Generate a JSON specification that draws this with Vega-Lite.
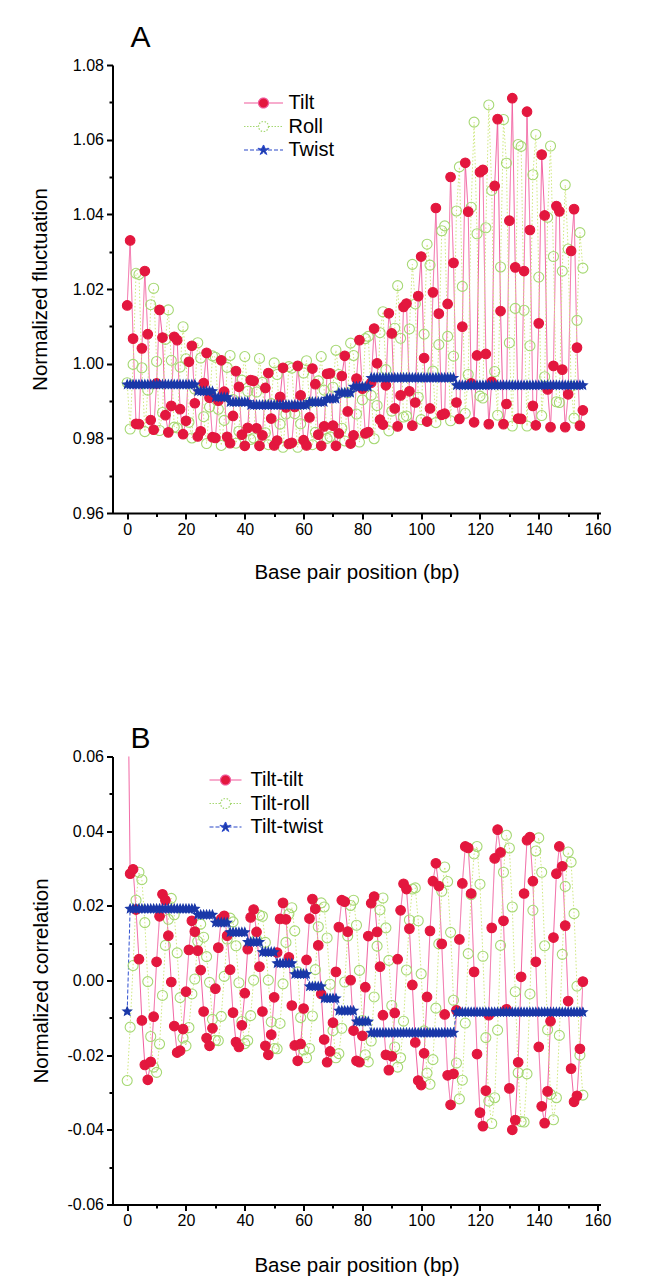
{
"$schema":"https://vega.github.io/schema/vega-lite/v6.json",
"background":"white",
"padding":{"left":30.5,"top":23,"right":8,"bottom":2},
"spacing":140.5,
"resolve":{"scale":{"color":"independent","strokeDash":"independent","shape":"independent","size":"independent","stroke":"independent","fill":"independent"},"legend":{"color":"independent","strokeDash":"independent","shape":"independent","size":"independent","stroke":"independent","fill":"independent"}},
"config":{
 "view":{"stroke":null},
 "font":"Liberation Sans",
 "axis":{"domainColor":"black","domainWidth":2,"tickColor":"black","tickWidth":2,"labelColor":"black","titleColor":"black","labelFont":"Liberation Sans","titleFont":"Liberation Sans","labelFontSize":16,"titleFontSize":20.5,"titleFontWeight":"normal","grid":false,"labelOverlap":false,"labelFlush":false},
 "title":{"font":"Liberation Sans","fontSize":30,"fontWeight":"normal","anchor":"start","frame":"group","color":"black","dx":18},
 "legend":{"orient":"none","title":null,"labelFontSize":20,"labelFont":"Liberation Sans","labelColor":"black","symbolSize":100,"labelOffset":15,"rowPadding":3.5,"padding":0,"symbolOpacity":1,"symbolStrokeWidth":1.2}
},
"datasets":{
"a":[
{"x":0,"Tilt":1.0156,"Roll":0.9949,"Twist":0.9944},
{"x":1,"Tilt":1.033,"Roll":0.9825,"Twist":0.9944},
{"x":2,"Tilt":1.0067,"Roll":0.9998,"Twist":0.9944},
{"x":3,"Tilt":0.9839,"Roll":1.0242,"Twist":0.9944},
{"x":4,"Tilt":0.9838,"Roll":1.0239,"Twist":0.9944},
{"x":5,"Tilt":1.0041,"Roll":0.9989,"Twist":0.9944},
{"x":6,"Tilt":1.0248,"Roll":0.9818,"Twist":0.9944},
{"x":7,"Tilt":1.0079,"Roll":0.9929,"Twist":0.9944},
{"x":8,"Tilt":0.9849,"Roll":1.0158,"Twist":0.9944},
{"x":9,"Tilt":0.9823,"Roll":1.0202,"Twist":0.9944},
{"x":10,"Tilt":0.9947,"Roll":1.0006,"Twist":0.9944},
{"x":11,"Tilt":1.0144,"Roll":0.9821,"Twist":0.9944},
{"x":12,"Tilt":1.007,"Roll":0.9869,"Twist":0.9944},
{"x":13,"Tilt":0.9862,"Roll":1.0065,"Twist":0.9944},
{"x":14,"Tilt":0.9816,"Roll":1.0144,"Twist":0.9944},
{"x":15,"Tilt":0.9887,"Roll":1.0009,"Twist":0.9944},
{"x":16,"Tilt":1.0072,"Roll":0.983,"Twist":0.9944},
{"x":17,"Tilt":1.0063,"Roll":0.9828,"Twist":0.9944},
{"x":18,"Tilt":0.9878,"Roll":0.9991,"Twist":0.9944},
{"x":19,"Tilt":0.9811,"Roll":1.0099,"Twist":0.9944},
{"x":20,"Tilt":0.9847,"Roll":1.0013,"Twist":0.9944},
{"x":21,"Tilt":1.0005,"Roll":0.9843,"Twist":0.9944},
{"x":22,"Tilt":1.0048,"Roll":0.9801,"Twist":0.9944},
{"x":23,"Tilt":0.9894,"Roll":0.9932,"Twist":0.9944},
{"x":24,"Tilt":0.9805,"Roll":1.0056,"Twist":0.9926},
{"x":25,"Tilt":0.9819,"Roll":1.0015,"Twist":0.9926},
{"x":26,"Tilt":0.9948,"Roll":0.9858,"Twist":0.9926},
{"x":27,"Tilt":1.0029,"Roll":0.9786,"Twist":0.9926},
{"x":28,"Tilt":0.9909,"Roll":0.9884,"Twist":0.9926},
{"x":29,"Tilt":0.9803,"Roll":1.0021,"Twist":0.9926},
{"x":30,"Tilt":0.9801,"Roll":1.0017,"Twist":0.991},
{"x":31,"Tilt":0.9901,"Roll":0.9878,"Twist":0.991},
{"x":32,"Tilt":1.0009,"Roll":0.9781,"Twist":0.991},
{"x":33,"Tilt":0.9925,"Roll":0.9848,"Twist":0.991},
{"x":34,"Tilt":0.9804,"Roll":0.999,"Twist":0.991},
{"x":35,"Tilt":0.9787,"Roll":1.0022,"Twist":0.9897},
{"x":36,"Tilt":0.986,"Roll":0.9904,"Twist":0.9897},
{"x":37,"Tilt":0.998,"Roll":0.9787,"Twist":0.9897},
{"x":38,"Tilt":0.9938,"Roll":0.9819,"Twist":0.9897},
{"x":39,"Tilt":0.981,"Roll":0.9956,"Twist":0.9897},
{"x":40,"Tilt":0.978,"Roll":1.0019,"Twist":0.9897},
{"x":41,"Tilt":0.9828,"Roll":0.9926,"Twist":0.9897},
{"x":42,"Tilt":0.9956,"Roll":0.9797,"Twist":0.9889},
{"x":43,"Tilt":0.9954,"Roll":0.9801,"Twist":0.9889},
{"x":44,"Tilt":0.9827,"Roll":0.9924,"Twist":0.9889},
{"x":45,"Tilt":0.978,"Roll":1.0014,"Twist":0.9889},
{"x":46,"Tilt":0.9808,"Roll":0.995,"Twist":0.9889},
{"x":47,"Tilt":0.9935,"Roll":0.9815,"Twist":0.9889},
{"x":48,"Tilt":0.9975,"Roll":0.9783,"Twist":0.9889},
{"x":49,"Tilt":0.9853,"Roll":0.9893,"Twist":0.9889},
{"x":50,"Tilt":0.9781,"Roll":1.0002,"Twist":0.9889},
{"x":51,"Tilt":0.9794,"Roll":0.9971,"Twist":0.9889},
{"x":52,"Tilt":0.9911,"Roll":0.9838,"Twist":0.9889},
{"x":53,"Tilt":0.9989,"Roll":0.9776,"Twist":0.9889},
{"x":54,"Tilt":0.9883,"Roll":0.9865,"Twist":0.9889},
{"x":55,"Tilt":0.9785,"Roll":0.9992,"Twist":0.9889},
{"x":56,"Tilt":0.9788,"Roll":0.9988,"Twist":0.9889},
{"x":57,"Tilt":0.9884,"Roll":0.9866,"Twist":0.9889},
{"x":58,"Tilt":0.9994,"Roll":0.9776,"Twist":0.9889},
{"x":59,"Tilt":0.9915,"Roll":0.9839,"Twist":0.9889},
{"x":60,"Tilt":0.9795,"Roll":0.9975,"Twist":0.9889},
{"x":61,"Tilt":0.9781,"Roll":1.0008,"Twist":0.9889},
{"x":62,"Tilt":0.9856,"Roll":0.9896,"Twist":0.9897},
{"x":63,"Tilt":0.9987,"Roll":0.9783,"Twist":0.9897},
{"x":64,"Tilt":0.9945,"Roll":0.9816,"Twist":0.9897},
{"x":65,"Tilt":0.981,"Roll":0.9954,"Twist":0.9897},
{"x":66,"Tilt":0.978,"Roll":1.0019,"Twist":0.9897},
{"x":67,"Tilt":0.9832,"Roll":0.9929,"Twist":0.9897},
{"x":68,"Tilt":0.9973,"Roll":0.98,"Twist":0.9906},
{"x":69,"Tilt":0.9974,"Roll":0.9804,"Twist":0.9906},
{"x":70,"Tilt":0.9834,"Roll":0.9937,"Twist":0.9906},
{"x":71,"Tilt":0.978,"Roll":1.0036,"Twist":0.9906},
{"x":72,"Tilt":0.9813,"Roll":0.9971,"Twist":0.9922},
{"x":73,"Tilt":0.9967,"Roll":0.9827,"Twist":0.9922},
{"x":74,"Tilt":1.0021,"Roll":0.9793,"Twist":0.9922},
{"x":75,"Tilt":0.9872,"Roll":0.9922,"Twist":0.9922},
{"x":76,"Tilt":0.9786,"Roll":1.0055,"Twist":0.9922},
{"x":77,"Tilt":0.9808,"Roll":1.0022,"Twist":0.9938},
{"x":78,"Tilt":0.996,"Roll":0.9865,"Twist":0.9938},
{"x":79,"Tilt":1.0063,"Roll":0.979,"Twist":0.9938},
{"x":80,"Tilt":0.9933,"Roll":0.9903,"Twist":0.9938},
{"x":81,"Tilt":0.9813,"Roll":1.0067,"Twist":0.9938},
{"x":82,"Tilt":0.9817,"Roll":1.0073,"Twist":0.9938},
{"x":83,"Tilt":0.9949,"Roll":0.9915,"Twist":0.9962},
{"x":84,"Tilt":1.0094,"Roll":0.9799,"Twist":0.9962},
{"x":85,"Tilt":1.0001,"Roll":0.9888,"Twist":0.9962},
{"x":86,"Tilt":0.985,"Roll":1.0083,"Twist":0.9962},
{"x":87,"Tilt":0.9837,"Roll":1.0139,"Twist":0.9962},
{"x":88,"Tilt":0.9942,"Roll":0.9984,"Twist":0.9962},
{"x":89,"Tilt":1.0135,"Roll":0.982,"Twist":0.9962},
{"x":90,"Tilt":1.0081,"Roll":0.9873,"Twist":0.9962},
{"x":91,"Tilt":0.988,"Roll":1.0095,"Twist":0.9962},
{"x":92,"Tilt":0.9832,"Roll":1.0209,"Twist":0.9962},
{"x":93,"Tilt":0.9915,"Roll":1.0068,"Twist":0.9962},
{"x":94,"Tilt":1.0152,"Roll":0.9857,"Twist":0.9962},
{"x":95,"Tilt":1.0161,"Roll":0.986,"Twist":0.9962},
{"x":96,"Tilt":0.9926,"Roll":1.0093,"Twist":0.9962},
{"x":97,"Tilt":0.9834,"Roll":1.0266,"Twist":0.9962},
{"x":98,"Tilt":0.9896,"Roll":1.016,"Twist":0.9962},
{"x":99,"Tilt":1.0181,"Roll":0.991,"Twist":0.9962},
{"x":100,"Tilt":1.0287,"Roll":0.985,"Twist":0.9962},
{"x":101,"Tilt":1.0015,"Roll":1.0079,"Twist":0.9962},
{"x":102,"Tilt":0.9845,"Roll":1.032,"Twist":0.9962},
{"x":103,"Tilt":0.988,"Roll":1.0264,"Twist":0.9962},
{"x":104,"Tilt":1.0191,"Roll":0.998,"Twist":0.9962},
{"x":105,"Tilt":1.0417,"Roll":0.9842,"Twist":0.9962},
{"x":106,"Tilt":1.0134,"Roll":1.0051,"Twist":0.9962},
{"x":107,"Tilt":0.9863,"Roll":1.0356,"Twist":0.9962},
{"x":108,"Tilt":0.9866,"Roll":1.0369,"Twist":0.9962},
{"x":109,"Tilt":1.016,"Roll":1.0073,"Twist":0.9962},
{"x":110,"Tilt":1.05,"Roll":0.9847,"Twist":0.9962},
{"x":111,"Tilt":1.027,"Roll":1.002,"Twist":0.9962},
{"x":112,"Tilt":0.9896,"Roll":1.0409,"Twist":0.9942},
{"x":113,"Tilt":0.9852,"Roll":1.0527,"Twist":0.9942},
{"x":114,"Tilt":1.0099,"Roll":1.0207,"Twist":0.9942},
{"x":115,"Tilt":1.0538,"Roll":0.9867,"Twist":0.9942},
{"x":116,"Tilt":1.0407,"Roll":0.9971,"Twist":0.9942},
{"x":117,"Tilt":0.9947,"Roll":1.0419,"Twist":0.9942},
{"x":118,"Tilt":0.9843,"Roll":1.0647,"Twist":0.9942},
{"x":119,"Tilt":1.0022,"Roll":1.0348,"Twist":0.9942},
{"x":120,"Tilt":1.0513,"Roll":0.9913,"Twist":0.9942},
{"x":121,"Tilt":1.0519,"Roll":0.9908,"Twist":0.9942},
{"x":122,"Tilt":1.0026,"Roll":1.0364,"Twist":0.9942},
{"x":123,"Tilt":0.9838,"Roll":1.0693,"Twist":0.9942},
{"x":124,"Tilt":0.9951,"Roll":1.0464,"Twist":0.9942},
{"x":125,"Tilt":1.0476,"Roll":0.9979,"Twist":0.9942},
{"x":126,"Tilt":1.0655,"Roll":0.9862,"Twist":0.9942},
{"x":127,"Tilt":1.0141,"Roll":1.0259,"Twist":0.9942},
{"x":128,"Tilt":0.9838,"Roll":1.0654,"Twist":0.9942},
{"x":129,"Tilt":0.9892,"Roll":1.0537,"Twist":0.9942},
{"x":130,"Tilt":1.0383,"Roll":1.0056,"Twist":0.9942},
{"x":131,"Tilt":1.0711,"Roll":0.9833,"Twist":0.9942},
{"x":132,"Tilt":1.0258,"Roll":1.0148,"Twist":0.9942},
{"x":133,"Tilt":0.9853,"Roll":1.0587,"Twist":0.9942},
{"x":134,"Tilt":0.9852,"Roll":1.0582,"Twist":0.9942},
{"x":135,"Tilt":1.0248,"Roll":1.0143,"Twist":0.9942},
{"x":136,"Tilt":1.0675,"Roll":0.9833,"Twist":0.9942},
{"x":137,"Tilt":1.0358,"Roll":1.0048,"Twist":0.9942},
{"x":138,"Tilt":0.9887,"Roll":1.0506,"Twist":0.9942},
{"x":139,"Tilt":0.9835,"Roll":1.0614,"Twist":0.9942},
{"x":140,"Tilt":1.0108,"Roll":1.0232,"Twist":0.9942},
{"x":141,"Tilt":1.056,"Roll":0.9861,"Twist":0.9942},
{"x":142,"Tilt":1.0397,"Roll":0.9965,"Twist":0.9942},
{"x":143,"Tilt":0.9931,"Roll":1.0392,"Twist":0.9942},
{"x":144,"Tilt":0.983,"Roll":1.0583,"Twist":0.9942},
{"x":145,"Tilt":0.9994,"Roll":1.0287,"Twist":0.9942},
{"x":146,"Tilt":1.0422,"Roll":0.9898,"Twist":0.9942},
{"x":147,"Tilt":1.0408,"Roll":0.9896,"Twist":0.9942},
{"x":148,"Tilt":0.9984,"Roll":1.0248,"Twist":0.9942},
{"x":149,"Tilt":0.983,"Roll":1.0479,"Twist":0.9942},
{"x":150,"Tilt":0.9918,"Roll":1.0307,"Twist":0.9942},
{"x":151,"Tilt":1.0302,"Roll":0.9939,"Twist":0.9942},
{"x":152,"Tilt":1.0414,"Roll":0.9854,"Twist":0.9942},
{"x":153,"Tilt":1.0043,"Roll":1.0116,"Twist":0.9942},
{"x":154,"Tilt":0.9834,"Roll":1.0351,"Twist":0.9942},
{"x":155,"Tilt":0.9875,"Roll":1.0256,"Twist":0.9942}
],
"b":[
{"x":0,"Tilt-tilt":0.1,"Tilt-roll":-0.0268,"Tilt-twist":-0.0083},
{"x":1,"Tilt-tilt":0.0286,"Tilt-roll":-0.0125,"Tilt-twist":0.0192},
{"x":2,"Tilt-tilt":0.0298,"Tilt-roll":0.004,"Tilt-twist":0.0192},
{"x":3,"Tilt-tilt":0.019,"Tilt-roll":0.0215,"Tilt-twist":0.0192},
{"x":4,"Tilt-tilt":0.0057,"Tilt-roll":0.029,"Tilt-twist":0.0192},
{"x":5,"Tilt-tilt":-0.0107,"Tilt-roll":0.027,"Tilt-twist":0.0192},
{"x":6,"Tilt-tilt":-0.0226,"Tilt-roll":0.0155,"Tilt-twist":0.0192},
{"x":7,"Tilt-tilt":-0.0266,"Tilt-roll":-0.0003,"Tilt-twist":0.0192},
{"x":8,"Tilt-tilt":-0.0218,"Tilt-roll":-0.015,"Tilt-twist":0.0192},
{"x":9,"Tilt-tilt":-0.0097,"Tilt-roll":-0.0232,"Tilt-twist":0.0192},
{"x":10,"Tilt-tilt":0.005,"Tilt-roll":-0.0246,"Tilt-twist":0.0192},
{"x":11,"Tilt-tilt":0.0172,"Tilt-roll":-0.017,"Tilt-twist":0.0192},
{"x":12,"Tilt-tilt":0.0231,"Tilt-roll":-0.004,"Tilt-twist":0.0192},
{"x":13,"Tilt-tilt":0.0215,"Tilt-roll":0.0094,"Tilt-twist":0.0192},
{"x":14,"Tilt-tilt":0.012,"Tilt-roll":0.0164,"Tilt-twist":0.0192},
{"x":15,"Tilt-tilt":-0.0004,"Tilt-roll":0.022,"Tilt-twist":0.0192},
{"x":16,"Tilt-tilt":-0.0122,"Tilt-roll":0.0176,"Tilt-twist":0.0192},
{"x":17,"Tilt-tilt":-0.0193,"Tilt-roll":0.0074,"Tilt-twist":0.0192},
{"x":18,"Tilt-tilt":-0.0188,"Tilt-roll":-0.0046,"Tilt-twist":0.0192},
{"x":19,"Tilt-tilt":-0.013,"Tilt-roll":-0.0154,"Tilt-twist":0.0192},
{"x":20,"Tilt-tilt":-0.003,"Tilt-roll":-0.0175,"Tilt-twist":0.0192},
{"x":21,"Tilt-tilt":0.0082,"Tilt-roll":-0.0126,"Tilt-twist":0.0192},
{"x":22,"Tilt-tilt":0.016,"Tilt-roll":-0.0036,"Tilt-twist":0.0192},
{"x":23,"Tilt-tilt":0.0131,"Tilt-roll":0.0004,"Tilt-twist":0.0192},
{"x":24,"Tilt-tilt":0.008,"Tilt-roll":0.0105,"Tilt-twist":0.0176},
{"x":25,"Tilt-tilt":0.0028,"Tilt-roll":0.0151,"Tilt-twist":0.0176},
{"x":26,"Tilt-tilt":-0.0083,"Tilt-roll":0.0116,"Tilt-twist":0.0176},
{"x":27,"Tilt-tilt":-0.0154,"Tilt-roll":0.0064,"Tilt-twist":0.0176},
{"x":28,"Tilt-tilt":-0.0175,"Tilt-roll":-0.0005,"Tilt-twist":0.0176},
{"x":29,"Tilt-tilt":-0.0128,"Tilt-roll":-0.0104,"Tilt-twist":0.0176},
{"x":30,"Tilt-tilt":-0.0022,"Tilt-roll":-0.016,"Tilt-twist":0.0155},
{"x":31,"Tilt-tilt":0.0088,"Tilt-roll":-0.0161,"Tilt-twist":0.0155},
{"x":32,"Tilt-tilt":0.0165,"Tilt-roll":-0.0096,"Tilt-twist":0.0155},
{"x":33,"Tilt-tilt":0.0173,"Tilt-roll":0.0011,"Tilt-twist":0.0155},
{"x":34,"Tilt-tilt":0.012,"Tilt-roll":0.0111,"Tilt-twist":0.0155},
{"x":35,"Tilt-tilt":0.0029,"Tilt-roll":0.0167,"Tilt-twist":0.0129},
{"x":36,"Tilt-tilt":-0.0086,"Tilt-roll":0.0157,"Tilt-twist":0.0129},
{"x":37,"Tilt-tilt":-0.0165,"Tilt-roll":0.0093,"Tilt-twist":0.0129},
{"x":38,"Tilt-tilt":-0.0178,"Tilt-roll":-0.0006,"Tilt-twist":0.0129},
{"x":39,"Tilt-tilt":-0.012,"Tilt-roll":-0.011,"Tilt-twist":0.0129},
{"x":40,"Tilt-tilt":-0.0034,"Tilt-roll":-0.0169,"Tilt-twist":0.0129},
{"x":41,"Tilt-tilt":0.0084,"Tilt-roll":-0.0161,"Tilt-twist":0.0103},
{"x":42,"Tilt-tilt":0.0169,"Tilt-roll":-0.0094,"Tilt-twist":0.0103},
{"x":43,"Tilt-tilt":0.019,"Tilt-roll":0.0001,"Tilt-twist":0.0103},
{"x":44,"Tilt-tilt":0.013,"Tilt-roll":0.011,"Tilt-twist":0.0103},
{"x":45,"Tilt-tilt":0.0037,"Tilt-roll":0.0175,"Tilt-twist":0.0103},
{"x":46,"Tilt-tilt":-0.0083,"Tilt-roll":0.0172,"Tilt-twist":0.0076},
{"x":47,"Tilt-tilt":-0.0175,"Tilt-roll":0.0102,"Tilt-twist":0.0076},
{"x":48,"Tilt-tilt":-0.0199,"Tilt-roll":0.0001,"Tilt-twist":0.0076},
{"x":49,"Tilt-tilt":-0.0145,"Tilt-roll":-0.0111,"Tilt-twist":0.0076},
{"x":50,"Tilt-tilt":-0.0045,"Tilt-roll":-0.0182,"Tilt-twist":0.0076},
{"x":51,"Tilt-tilt":0.0075,"Tilt-roll":-0.0183,"Tilt-twist":0.0046},
{"x":52,"Tilt-tilt":0.0165,"Tilt-roll":-0.0115,"Tilt-twist":0.0046},
{"x":53,"Tilt-tilt":0.0208,"Tilt-roll":-0.0009,"Tilt-twist":0.0046},
{"x":54,"Tilt-tilt":0.0164,"Tilt-roll":0.0102,"Tilt-twist":0.0046},
{"x":55,"Tilt-tilt":0.0062,"Tilt-roll":0.0178,"Tilt-twist":0.0046},
{"x":56,"Tilt-tilt":-0.0067,"Tilt-roll":0.0195,"Tilt-twist":0.0046},
{"x":57,"Tilt-tilt":-0.0174,"Tilt-roll":0.0133,"Tilt-twist":0.0017},
{"x":58,"Tilt-tilt":-0.0215,"Tilt-roll":0.0023,"Tilt-twist":0.0017},
{"x":59,"Tilt-tilt":-0.017,"Tilt-roll":-0.0099,"Tilt-twist":0.0017},
{"x":60,"Tilt-tilt":-0.0075,"Tilt-roll":-0.0186,"Tilt-twist":0.0017},
{"x":61,"Tilt-tilt":0.0055,"Tilt-roll":-0.0207,"Tilt-twist":0.0017},
{"x":62,"Tilt-tilt":0.0166,"Tilt-roll":-0.0182,"Tilt-twist":-0.0016},
{"x":63,"Tilt-tilt":0.0218,"Tilt-roll":-0.0095,"Tilt-twist":-0.0016},
{"x":64,"Tilt-tilt":0.0192,"Tilt-roll":0.0029,"Tilt-twist":-0.0016},
{"x":65,"Tilt-tilt":0.0094,"Tilt-roll":0.0144,"Tilt-twist":-0.0016},
{"x":66,"Tilt-tilt":-0.0036,"Tilt-roll":0.0208,"Tilt-twist":-0.0016},
{"x":67,"Tilt-tilt":-0.0158,"Tilt-roll":0.0197,"Tilt-twist":-0.0048},
{"x":68,"Tilt-tilt":-0.0219,"Tilt-roll":0.0114,"Tilt-twist":-0.0048},
{"x":69,"Tilt-tilt":-0.019,"Tilt-roll":-0.001,"Tilt-twist":-0.0048},
{"x":70,"Tilt-tilt":-0.0113,"Tilt-roll":-0.0134,"Tilt-twist":-0.0048},
{"x":71,"Tilt-tilt":0.0023,"Tilt-roll":-0.0207,"Tilt-twist":-0.0048},
{"x":72,"Tilt-tilt":0.0143,"Tilt-roll":-0.0196,"Tilt-twist":-0.0081},
{"x":73,"Tilt-tilt":0.0215,"Tilt-roll":-0.0128,"Tilt-twist":-0.0081},
{"x":74,"Tilt-tilt":0.0211,"Tilt-roll":-0.0004,"Tilt-twist":-0.0081},
{"x":75,"Tilt-tilt":0.0131,"Tilt-roll":0.0119,"Tilt-twist":-0.0081},
{"x":76,"Tilt-tilt":0.0001,"Tilt-roll":0.0201,"Tilt-twist":-0.0081},
{"x":77,"Tilt-tilt":-0.0134,"Tilt-roll":0.0215,"Tilt-twist":-0.0081},
{"x":78,"Tilt-tilt":-0.0215,"Tilt-roll":0.0148,"Tilt-twist":-0.011},
{"x":79,"Tilt-tilt":-0.0219,"Tilt-roll":0.0027,"Tilt-twist":-0.011},
{"x":80,"Tilt-tilt":-0.0148,"Tilt-roll":-0.0107,"Tilt-twist":-0.011},
{"x":81,"Tilt-tilt":-0.0018,"Tilt-roll":-0.0199,"Tilt-twist":-0.011},
{"x":82,"Tilt-tilt":0.0119,"Tilt-roll":-0.0218,"Tilt-twist":-0.011},
{"x":83,"Tilt-tilt":0.0207,"Tilt-roll":-0.0162,"Tilt-twist":-0.014},
{"x":84,"Tilt-tilt":0.0225,"Tilt-roll":-0.0044,"Tilt-twist":-0.014},
{"x":85,"Tilt-tilt":0.013,"Tilt-roll":0.0092,"Tilt-twist":-0.014},
{"x":86,"Tilt-tilt":0.0037,"Tilt-roll":0.0189,"Tilt-twist":-0.014},
{"x":87,"Tilt-tilt":-0.0093,"Tilt-roll":0.0221,"Tilt-twist":-0.014},
{"x":88,"Tilt-tilt":-0.0199,"Tilt-roll":0.0141,"Tilt-twist":-0.014},
{"x":89,"Tilt-tilt":-0.024,"Tilt-roll":0.0054,"Tilt-twist":-0.014},
{"x":90,"Tilt-tilt":-0.0203,"Tilt-roll":-0.0067,"Tilt-twist":-0.014},
{"x":91,"Tilt-tilt":-0.0087,"Tilt-roll":-0.0178,"Tilt-twist":-0.014},
{"x":92,"Tilt-tilt":0.0057,"Tilt-roll":-0.0232,"Tilt-twist":-0.014},
{"x":93,"Tilt-tilt":0.0188,"Tilt-roll":-0.0207,"Tilt-twist":-0.014},
{"x":94,"Tilt-tilt":0.0259,"Tilt-roll":-0.0109,"Tilt-twist":-0.014},
{"x":95,"Tilt-tilt":0.0245,"Tilt-roll":0.0028,"Tilt-twist":-0.014},
{"x":96,"Tilt-tilt":0.0139,"Tilt-roll":0.0162,"Tilt-twist":-0.014},
{"x":97,"Tilt-tilt":-0.0012,"Tilt-roll":0.0245,"Tilt-twist":-0.014},
{"x":98,"Tilt-tilt":-0.0166,"Tilt-roll":0.0248,"Tilt-twist":-0.014},
{"x":99,"Tilt-tilt":-0.0268,"Tilt-roll":0.016,"Tilt-twist":-0.014},
{"x":100,"Tilt-tilt":-0.028,"Tilt-roll":0.0018,"Tilt-twist":-0.014},
{"x":101,"Tilt-tilt":-0.0195,"Tilt-roll":-0.0135,"Tilt-twist":-0.014},
{"x":102,"Tilt-tilt":-0.0044,"Tilt-roll":-0.0248,"Tilt-twist":-0.014},
{"x":103,"Tilt-tilt":0.0133,"Tilt-roll":-0.0278,"Tilt-twist":-0.014},
{"x":104,"Tilt-tilt":0.0266,"Tilt-roll":-0.0212,"Tilt-twist":-0.014},
{"x":105,"Tilt-tilt":0.0314,"Tilt-roll":-0.0074,"Tilt-twist":-0.014},
{"x":106,"Tilt-tilt":0.0253,"Tilt-roll":0.0098,"Tilt-twist":-0.014},
{"x":107,"Tilt-tilt":0.0098,"Tilt-roll":0.0239,"Tilt-twist":-0.014},
{"x":108,"Tilt-tilt":-0.0091,"Tilt-roll":0.0304,"Tilt-twist":-0.014},
{"x":109,"Tilt-tilt":-0.0254,"Tilt-roll":0.0265,"Tilt-twist":-0.014},
{"x":110,"Tilt-tilt":-0.0333,"Tilt-roll":0.0129,"Tilt-twist":-0.014},
{"x":111,"Tilt-tilt":-0.025,"Tilt-roll":-0.0053,"Tilt-twist":-0.014},
{"x":112,"Tilt-tilt":-0.008,"Tilt-roll":-0.0221,"Tilt-twist":-0.0085},
{"x":113,"Tilt-tilt":0.011,"Tilt-roll":-0.0317,"Tilt-twist":-0.0085},
{"x":114,"Tilt-tilt":0.026,"Tilt-roll":-0.0267,"Tilt-twist":-0.0085},
{"x":115,"Tilt-tilt":0.0359,"Tilt-roll":-0.0114,"Tilt-twist":-0.0085},
{"x":116,"Tilt-tilt":0.0355,"Tilt-roll":0.0072,"Tilt-twist":-0.0085},
{"x":117,"Tilt-tilt":0.0233,"Tilt-roll":0.023,"Tilt-twist":-0.0085},
{"x":118,"Tilt-tilt":0.0023,"Tilt-roll":0.0339,"Tilt-twist":-0.0085},
{"x":119,"Tilt-tilt":-0.0197,"Tilt-roll":0.0359,"Tilt-twist":-0.0085},
{"x":120,"Tilt-tilt":-0.0354,"Tilt-roll":0.0258,"Tilt-twist":-0.0085},
{"x":121,"Tilt-tilt":-0.039,"Tilt-roll":0.0065,"Tilt-twist":-0.0085},
{"x":122,"Tilt-tilt":-0.0295,"Tilt-roll":-0.0153,"Tilt-twist":-0.0085},
{"x":123,"Tilt-tilt":-0.0093,"Tilt-roll":-0.0323,"Tilt-twist":-0.0085},
{"x":124,"Tilt-tilt":0.0141,"Tilt-roll":-0.0383,"Tilt-twist":-0.0085},
{"x":125,"Tilt-tilt":0.0327,"Tilt-roll":-0.0314,"Tilt-twist":-0.0085},
{"x":126,"Tilt-tilt":0.0404,"Tilt-roll":-0.0133,"Tilt-twist":-0.0085},
{"x":127,"Tilt-tilt":0.0343,"Tilt-roll":0.0094,"Tilt-twist":-0.0085},
{"x":128,"Tilt-tilt":0.016,"Tilt-roll":0.029,"Tilt-twist":-0.0085},
{"x":129,"Tilt-tilt":-0.0077,"Tilt-roll":0.0389,"Tilt-twist":-0.0085},
{"x":130,"Tilt-tilt":-0.0289,"Tilt-roll":0.0355,"Tilt-twist":-0.0085},
{"x":131,"Tilt-tilt":-0.04,"Tilt-roll":0.0197,"Tilt-twist":-0.0085},
{"x":132,"Tilt-tilt":-0.0374,"Tilt-roll":-0.003,"Tilt-twist":-0.0085},
{"x":133,"Tilt-tilt":-0.0219,"Tilt-roll":-0.0247,"Tilt-twist":-0.0085},
{"x":134,"Tilt-tilt":0.001,"Tilt-roll":-0.0378,"Tilt-twist":-0.0085},
{"x":135,"Tilt-tilt":0.0233,"Tilt-roll":-0.0379,"Tilt-twist":-0.0085},
{"x":136,"Tilt-tilt":0.0376,"Tilt-roll":-0.025,"Tilt-twist":-0.0085},
{"x":137,"Tilt-tilt":0.0384,"Tilt-roll":-0.0036,"Tilt-twist":-0.0085},
{"x":138,"Tilt-tilt":0.0266,"Tilt-roll":0.0188,"Tilt-twist":-0.0085},
{"x":139,"Tilt-tilt":0.005,"Tilt-roll":0.0347,"Tilt-twist":-0.0085},
{"x":140,"Tilt-tilt":-0.0178,"Tilt-roll":0.0382,"Tilt-twist":-0.0085},
{"x":141,"Tilt-tilt":-0.0337,"Tilt-roll":0.029,"Tilt-twist":-0.0085},
{"x":142,"Tilt-tilt":-0.0382,"Tilt-roll":0.0093,"Tilt-twist":-0.0085},
{"x":143,"Tilt-tilt":-0.0297,"Tilt-roll":-0.0132,"Tilt-twist":-0.0085},
{"x":144,"Tilt-tilt":-0.0109,"Tilt-roll":-0.0305,"Tilt-twist":-0.0085},
{"x":145,"Tilt-tilt":0.0115,"Tilt-roll":-0.0373,"Tilt-twist":-0.0085},
{"x":146,"Tilt-tilt":0.0286,"Tilt-roll":-0.0314,"Tilt-twist":-0.0085},
{"x":147,"Tilt-tilt":0.0359,"Tilt-roll":-0.0147,"Tilt-twist":-0.0085},
{"x":148,"Tilt-tilt":0.0306,"Tilt-roll":0.007,"Tilt-twist":-0.0085},
{"x":149,"Tilt-tilt":0.0147,"Tilt-roll":0.0252,"Tilt-twist":-0.0085},
{"x":150,"Tilt-tilt":-0.0055,"Tilt-roll":0.0344,"Tilt-twist":-0.0085},
{"x":151,"Tilt-tilt":-0.0236,"Tilt-roll":0.0317,"Tilt-twist":-0.0085},
{"x":152,"Tilt-tilt":-0.0325,"Tilt-roll":0.0179,"Tilt-twist":-0.0085},
{"x":153,"Tilt-tilt":-0.0309,"Tilt-roll":-0.0015,"Tilt-twist":-0.0085},
{"x":154,"Tilt-tilt":-0.0183,"Tilt-roll":-0.02,"Tilt-twist":-0.0085},
{"x":155,"Tilt-tilt":-0.0003,"Tilt-roll":-0.0307,"Tilt-twist":-0.0085}
]
},
"vconcat":[
{
 "title":{"text":"A","offset":4},
 "width":488,"height":448,
 "data":{"name":"a"},
 "transform":[{"fold":["Tilt","Roll","Twist"],"as":["series","value"]}],
 "encoding":{
  "x":{"field":"x","type":"quantitative","scale":{"domain":[-5,161],"nice":false,"zero":false},
   "axis":{"title":"Base pair position (bp)","values":[0,10,20,30,40,50,60,70,80,90,100,110,120,130,140,150,160],"labelExpr":"datum.value % 20 == 0 ? datum.label : ''","tickSize":{"condition":{"test":"datum.value % 20 == 0","value":6},"value":3.5},"labelPadding":2,"titlePadding":25}},
  "y":{"field":"value","type":"quantitative","scale":{"domain":[0.96,1.08],"nice":false,"zero":false},
   "axis":{"title":"Normalized fluctuation","values":[0.96,0.97,0.98,0.99,1,1.01,1.02,1.03,1.04,1.05,1.06,1.07,1.08],"labelExpr":"abs(round(datum.value*100)) % 2 == 0 ? format(datum.value, '.2f') : ''","tickSize":{"condition":{"test":"abs(round(datum.value*100)) % 2 == 0","value":6},"value":3.5},"labelPadding":3,"titlePadding":21.5}}
 },
 "layer":[
  {"mark":{"type":"line","strokeWidth":1,"clip":true},
   "encoding":{
    "color":{"field":"series","type":"nominal","scale":{"range":["#cfe880","#f05a9c","#3050d0"]},"legend":null},
    "strokeDash":{"field":"series","type":"nominal","scale":{"range":[[1.5,2],[1,0],[4,2]]},"legend":null}}},
  {"mark":{"type":"point","filled":true,"opacity":1,"strokeWidth":1.1,"clip":true},
   "encoding":{
    "order":{"field":"series","sort":"ascending"},
    "shape":{"field":"series","type":"nominal","scale":{"range":["circle","circle","M0,-1L0.265,-0.364L0.951,-0.309L0.428,0.139L0.588,0.809L0,0.45L-0.588,0.809L-0.428,0.139L-0.951,-0.309L-0.265,-0.364Z"]},"legend":null},
    "size":{"field":"series","type":"nominal","scale":{"range":[100,85,110]},"legend":null},
    "stroke":{"field":"series","type":"nominal","scale":{"range":["#a6d873","#e3173e","#1a38a8"]},"legend":null},
    "fill":{"field":"series","type":"nominal","scale":{"domain":["Tilt","Roll","Twist"],"range":["#e3173e","transparent","#1a38a8"]},
     "legend":{"legendX":141,"legendY":28,
      "symbolType":{"expr":"datum.value == 'Twist' ? 'M-3.9,0L3.9,0M0,-1L0.265,-0.364L0.951,-0.309L0.428,0.139L0.588,0.809L0,0.45L-0.588,0.809L-0.428,0.139L-0.951,-0.309L-0.265,-0.364Z' : 'M-3.9,0L-1,0M1,0L3.9,0M1,0A1,1,0,1,1,-1,0A1,1,0,1,1,1,0Z'"},
      "symbolStrokeColor":{"expr":"datum.value == 'Tilt' ? '#f05a9c' : datum.value == 'Roll' ? '#a6d873' : '#2a48c8'"},
      "symbolDash":{"expr":"datum.value == 'Roll' ? [1.5,1.5] : datum.value == 'Twist' ? [4,2] : [1,0]"}}}}}
 ]
},
{
 "title":{"text":"B","offset":-5},
 "width":488,"height":448,
 "data":{"name":"b"},
 "transform":[{"fold":["Tilt-tilt","Tilt-roll","Tilt-twist"],"as":["series","value"]}],
 "encoding":{
  "x":{"field":"x","type":"quantitative","scale":{"domain":[-5,161],"nice":false,"zero":false},
   "axis":{"title":"Base pair position (bp)","values":[0,10,20,30,40,50,60,70,80,90,100,110,120,130,140,150,160],"labelExpr":"datum.value % 20 == 0 ? datum.label : ''","tickSize":{"condition":{"test":"datum.value % 20 == 0","value":6},"value":3.5},"labelPadding":2,"titlePadding":27}},
  "y":{"field":"value","type":"quantitative","scale":{"domain":[-0.06,0.06],"nice":false,"zero":false},
   "axis":{"title":"Normalized correlation","values":[-0.06,-0.05,-0.04,-0.03,-0.02,-0.01,0,0.01,0.02,0.03,0.04,0.05,0.06],"labelExpr":"abs(round(datum.value*100)) % 2 == 0 ? (datum.value < -0.0001 ? '-' : '') + format(abs(datum.value), '.2f') : ''","tickSize":{"condition":{"test":"abs(round(datum.value*100)) % 2 == 0","value":6},"value":3.5},"labelPadding":3,"titlePadding":16}}
 },
 "layer":[
  {"mark":{"type":"line","strokeWidth":1,"clip":true},
   "encoding":{
    "color":{"field":"series","type":"nominal","scale":{"range":["#cfe880","#f05a9c","#3050d0"]},"legend":null},
    "strokeDash":{"field":"series","type":"nominal","scale":{"range":[[1.5,2],[1,0],[4,2]]},"legend":null}}},
  {"mark":{"type":"point","filled":true,"opacity":1,"strokeWidth":1.1,"clip":true},
   "encoding":{
    "order":{"field":"series","sort":"ascending"},
    "shape":{"field":"series","type":"nominal","scale":{"range":["circle","circle","M0,-1L0.265,-0.364L0.951,-0.309L0.428,0.139L0.588,0.809L0,0.45L-0.588,0.809L-0.428,0.139L-0.951,-0.309L-0.265,-0.364Z"]},"legend":null},
    "size":{"field":"series","type":"nominal","scale":{"range":[100,85,110]},"legend":null},
    "stroke":{"field":"series","type":"nominal","scale":{"range":["#a6d873","#e3173e","#1a38a8"]},"legend":null},
    "fill":{"field":"series","type":"nominal","scale":{"domain":["Tilt-tilt","Tilt-roll","Tilt-twist"],"range":["#e3173e","transparent","#1a38a8"]},
     "legend":{"legendX":103,"legendY":13.5,
      "symbolType":{"expr":"datum.value == 'Tilt-twist' ? 'M-3.2,0L3.2,0M0,-1L0.265,-0.364L0.951,-0.309L0.428,0.139L0.588,0.809L0,0.45L-0.588,0.809L-0.428,0.139L-0.951,-0.309L-0.265,-0.364Z' : 'M-3.2,0L-1,0M1,0L3.2,0M1,0A1,1,0,1,1,-1,0A1,1,0,1,1,1,0Z'"},
      "symbolStrokeColor":{"expr":"datum.value == 'Tilt-tilt' ? '#f05a9c' : datum.value == 'Tilt-roll' ? '#a6d873' : '#2a48c8'"},
      "symbolDash":{"expr":"datum.value == 'Tilt-roll' ? [1.5,1.5] : datum.value == 'Tilt-twist' ? [4,2] : [1,0]"}}}}}
 ]
}
]
}
